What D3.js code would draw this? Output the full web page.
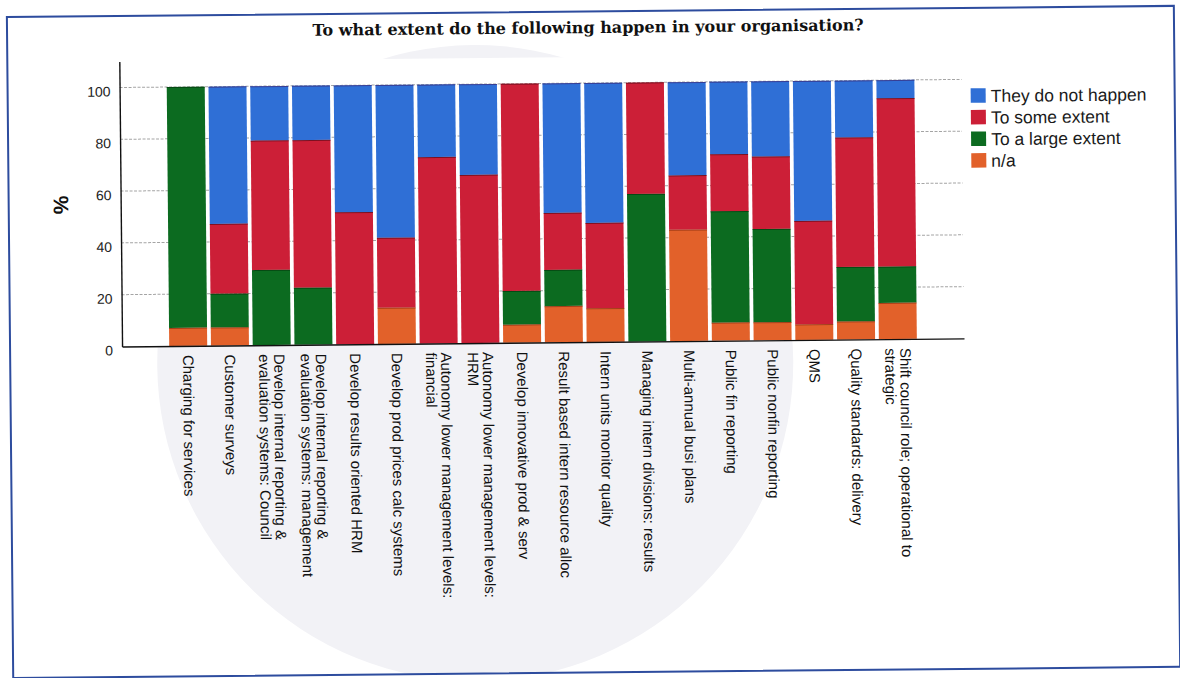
<!DOCTYPE html>
<html>
<head>
<meta charset="utf-8">
<script src="https://cdn.jsdelivr.net/npm/d3@7"></script>
<style>
  html, body { margin: 0; padding: 0; background: #ffffff; }
  svg { display: block; }
</style>
</head>
<body>
<script>
// Survey items (x categories)
const categories = [
  ["Charging for services"],
  ["Customer surveys"],
  ["Develop internal reporting &", "evaluation systems: Council"],
  ["Develop internal reporting &", "evaluation systems: management"],
  ["Develop results oriented HRM"],
  ["Develop prod prices calc systems"],
  ["Autonomy lower management levels:", "financial"],
  ["Autonomy lower management levels:", "HRM"],
  ["Develop innovative prod & serv"],
  ["Result based intern resource alloc"],
  ["Intern units monitor quality"],
  ["Managing intern divisions: results"],
  ["Multi-annual busi plans"],
  ["Public fin reporting"],
  ["Public nonfin reporting"],
  ["QMS"],
  ["Quality standards: delivery"],
  ["Shift council role; operational to", "strategic"]
];

// Percentages per answer, same order as the categories
const naValues      = [7, 7, 0, 0, 0, 14, 0, 0, 7, 14, 13, 0, 43, 7, 7, 6, 7, 14];
const largeValues   = [93, 13, 29, 22, 0, 0, 0, 0, 13, 14, 0, 57, 0, 43, 36, 0, 21, 14];
const someValues    = [0, 27, 50, 57, 51, 27, 72, 65, 80, 22, 33, 43, 21, 22, 28, 40, 50, 65];
const notValues     = [0, 53, 21, 21, 49, 59, 28, 35, 0, 50, 54, 0, 36, 28, 29, 54, 22, 7];

const seriesNames = ["n/a", "To a large extent", "To some extent", "They do not happen"];
const legendOrder = ["They do not happen", "To some extent", "To a large extent", "n/a"];
const yTicks = [0, 20, 40, 60, 80, 100];

const title = "To what extent do the following happen in your organisation?";
const yTitle = "%";

const colors = {
  "They do not happen": "#2f6fd6",
  "To some extent": "#cc1f37",
  "To a large extent": "#0c6b20",
  "n/a": "#e2612a"
};
const edgeColors = {
  "They do not happen": "#3b2a7a",
  "To some extent": "#5a0a18",
  "To a large extent": "#043b0e",
  "n/a": "#8a3010"
};

// Build rows for the stack layout
const keyOf = c => c.join(" ");
const rows = categories.map((c, i) => ({
  cat: keyOf(c),
  "n/a": naValues[i],
  "To a large extent": largeValues[i],
  "To some extent": someValues[i],
  "They do not happen": notValues[i]
}));

const W = 1180, H = 678;
const svg = d3.select("body").append("svg").attr("width", W).attr("height", H);
svg.append("rect").attr("width", W).attr("height", H).attr("fill", "#ffffff");

// whole sheet sits slightly skewed
const root = svg.append("g").attr("transform", "rotate(-0.55 590 339)");

const frame = { x: 10, y: 11.5, w: 1167, h: 661 };
root.append("clipPath").attr("id", "frameClip")
  .append("rect").attr("x", frame.x).attr("y", frame.y).attr("width", frame.w).attr("height", frame.h);

// faint background disc
root.append("g").attr("clip-path", "url(#frameClip)")
  .append("circle").attr("cx", 475).attr("cy", 362).attr("r", 318).attr("fill", "#f2f2f6");

root.append("rect")
  .attr("x", frame.x).attr("y", frame.y).attr("width", frame.w).attr("height", frame.h)
  .attr("fill", "none").attr("stroke", "#2d4c9e").attr("stroke-width", 2);

// title
root.append("text")
  .attr("x", 591).attr("y", 33)
  .attr("text-anchor", "middle")
  .attr("font-family", "'DejaVu Serif', serif")
  .attr("font-weight", "bold")
  .attr("font-size", 16)
  .attr("fill", "#111")
  .text(title);

// scales
const plot = { left: 122, right: 964, bottom: 342 };
const y = d3.scaleLinear().domain([0, 110]).range([plot.bottom, plot.bottom - 110 * 2.59]);
const x = d3.scaleBand()
  .domain(rows.map(r => r.cat))
  .range([plot.left, plot.right])
  .paddingInner(0.09)
  .paddingOuter(1.13);

// plot area background
root.append("rect")
  .attr("x", plot.left).attr("y", y(110))
  .attr("width", plot.right - plot.left).attr("height", plot.bottom - y(110))
  .attr("fill", "#ffffff");

// gridlines
root.append("g").selectAll("line")
  .data(yTicks.filter(t => t > 0))
  .join("line")
  .attr("x1", plot.left).attr("x2", plot.right)
  .attr("y1", d => y(d)).attr("y2", d => y(d))
  .attr("stroke", "#a4a4a4").attr("stroke-width", 1)
  .attr("stroke-dasharray", "3,1.5");

// stacked bars
const stacked = d3.stack().keys(seriesNames)(rows);
const barG = root.append("g");
stacked.forEach(layer => {
  const key = layer.key;
  barG.append("g").selectAll("rect")
    .data(layer.filter(d => d[1] > d[0]))
    .join("rect")
    .attr("x", d => x(d.data.cat))
    .attr("width", x.bandwidth())
    .attr("y", d => y(d[1]))
    .attr("height", d => y(d[0]) - y(d[1]))
    .attr("fill", colors[key]);
});
// thin darker edges where segments meet
stacked.forEach(layer => {
  const key = layer.key;
  barG.append("g").selectAll("line")
    .data(layer.filter(d => d[1] > d[0]))
    .join("line")
    .attr("x1", d => x(d.data.cat)).attr("x2", d => x(d.data.cat) + x.bandwidth())
    .attr("y1", d => y(d[1]) + 0.5).attr("y2", d => y(d[1]) + 0.5)
    .attr("stroke", edgeColors[key]).attr("stroke-width", 1).attr("opacity", 0.7);
});

// y axis
const yAxis = root.append("g")
  .attr("transform", `translate(${plot.left},0)`)
  .call(d3.axisLeft(y).tickValues(yTicks).tickSize(0).tickPadding(9));
yAxis.select(".domain").attr("stroke", "#111").attr("stroke-width", 1.4);
yAxis.selectAll("text")
  .attr("font-family", "'Liberation Sans', Arial, sans-serif")
  .attr("font-size", 14)
  .attr("fill", "#222")
  .attr("dy", "0.6em");

root.append("text")
  .attr("transform", "translate(62,200) rotate(-90)")
  .attr("text-anchor", "middle")
  .attr("dy", "0.35em")
  .attr("font-family", "'Liberation Sans', Arial, sans-serif")
  .attr("font-weight", "bold")
  .attr("font-size", 21)
  .attr("fill", "#111")
  .text(yTitle);

// x axis
const xAxis = root.append("g")
  .attr("transform", `translate(0,${plot.bottom})`)
  .call(d3.axisBottom(x).tickSize(0).tickFormat(""));
xAxis.select(".domain").attr("stroke", "#111").attr("stroke-width", 1.4);

const labelSize = 15;
const lineH = 15;
const labelG = root.append("g");
categories.forEach((lines, i) => {
  const cx = x(keyOf(lines)) + x.bandwidth() / 2;
  const t = labelG.append("text")
    .attr("transform", `translate(${cx},${plot.bottom + 9}) rotate(90)`)
    .attr("text-anchor", "start")
    .attr("font-family", "'Liberation Sans', Arial, sans-serif")
    .attr("font-size", labelSize)
    .attr("fill", "#111");
  const first = 0.35 * labelSize - (lines.length - 1) * lineH / 2;
  lines.forEach((ln, j) => {
    t.append("tspan")
      .attr("x", 0)
      .attr("y", first + j * lineH)
      .text(ln);
  });
});

// legend
const legend = root.append("g").attr("transform", "translate(973,92)");
legendOrder.forEach((name, i) => {
  const g = legend.append("g").attr("transform", `translate(0,${i * 21.6})`);
  g.append("rect").attr("width", 15).attr("height", 14.5).attr("fill", colors[name]);
  g.append("text")
    .attr("x", 20).attr("y", 7.5).attr("dy", "0.36em")
    .attr("font-family", "'Liberation Sans', Arial, sans-serif")
    .attr("font-size", 17.5)
    .attr("fill", "#1a1a1a")
    .text(name);
});
</script>
</body>
</html>
